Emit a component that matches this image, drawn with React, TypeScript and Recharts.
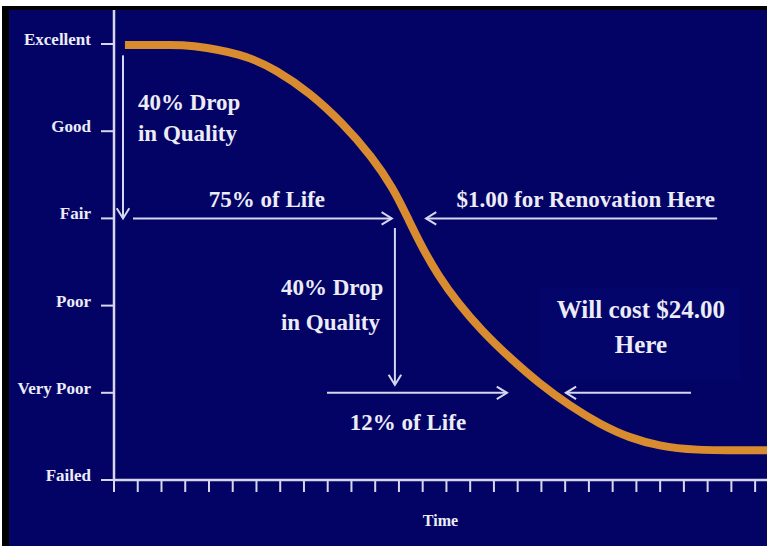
import { LineChart, Line, XAxis, YAxis, ReferenceLine, ReferenceDot, ReferenceArea, Label } from "recharts";

const NAVY = "#030366";
const INK = "#ececf6";
const AXIS = "#d6d6ee";
const ORANGE = "#d98b30";
const FONT = '"Liberation Serif", "Times New Roman", serif';

// quality levels, bottom to top
const levels = ["Failed", "Very Poor", "Poor", "Fair", "Good", "Excellent"];
const levelTicks = [0, 1, 2, 3, 4, 5];
const timeTicks = [0, 1, 2, 3, 4, 5, 6, 7, 8, 9, 10, 11, 12, 13, 14, 15, 16, 17, 18, 19, 20, 21, 22, 23, 24, 25, 26, 27];

// the deterioration curve (time in tick units, quality in levels)
const curveTime = [0.46, 2.6, 3.07, 5.43, 6.86, 8.25, 9.64, 10.86, 11.75, 12.38, 12.93, 13.64, 14.48, 15.49, 16.67, 17.94, 19.2, 20.46, 21.73, 22.99, 24.25, 27.5];
const curveQuality = [4.99, 4.99, 4.99, 4.89, 4.7, 4.44, 4.09, 3.71, 3.35, 3.0, 2.69, 2.35, 2.03, 1.71, 1.4, 1.1, 0.85, 0.64, 0.48, 0.39, 0.34, 0.34];

// arrows: [fromTime, fromQuality, toTime, toQuality], head at the "to" end
const arrows = [
  [0.38, 4.87, 0.38, 3.0],
  [0.8, 3.0, 11.7, 3.0],
  [25.4, 3.0, 13.14, 3.0],
  [11.83, 2.89, 11.83, 1.09],
  [8.97, 1.0, 16.55, 1.0],
  [24.3, 1.0, 19.03, 1.0],
];

// notes: time, quality of first baseline, anchor, size, line gap, lines
const noteTime = [1.01, 6.44, 19.87, 7.03, 12.38, 22.19];
const noteQuality = [4.24, 3.13, 3.13, 2.12, 0.57, 1.86];
const noteAnchor = ["start", "middle", "middle", "start", "middle", "middle"];
const noteSize = [23, 23, 23, 23, 23, 25];
const noteGap = [31, 0, 0, 35, 0, 35];
const noteLines = [
  ["40% Drop", "in Quality"],
  ["75% of Life"],
  ["$1.00 for Renovation Here"],
  ["40% Drop", "in Quality"],
  ["12% of Life"],
  ["Will cost $24.00", "Here"],
];

const data = curveTime.map((t, i) => ({ t, q: curveQuality[i] }));

function LevelTick(props: any) {
  const { x, y, payload } = props;
  return (
    <text x={x} y={y + 1} textAnchor="end" fill={INK} fontFamily={FONT} fontWeight="bold" fontSize={17}>
      {levels[payload.value]}
    </text>
  );
}

function TimeLabel(props: any) {
  const vb = props.viewBox || {};
  return (
    <text x={vb.x + vb.width / 2} y={vb.y + 46} textAnchor="middle" fill={INK} fontFamily={FONT} fontWeight="bold" fontSize={16}>
      Time
    </text>
  );
}

function Arrow(props: any) {
  const { x1, y1, x2, y2 } = props;
  const ang = Math.atan2(y2 - y1, x2 - x1);
  const h = 12;
  const s = 0.55;
  const ax = x2 - h * Math.cos(ang - s);
  const ay = y2 - h * Math.sin(ang - s);
  const bx = x2 - h * Math.cos(ang + s);
  const by = y2 - h * Math.sin(ang + s);
  return (
    <g>
      <line x1={x1} y1={y1} x2={x2} y2={y2} stroke={AXIS} strokeWidth={2} />
      <polyline points={`${ax},${ay} ${x2},${y2} ${bx},${by}`} fill="none" stroke={AXIS} strokeWidth={2} />
    </g>
  );
}

function Note(props: any) {
  const { cx, cy, lines, anchor, size, gap } = props;
  return (
    <text textAnchor={anchor} fill={INK} fontFamily={FONT} fontWeight="bold" fontSize={size}>
      {lines.map((l: string, i: number) => (
        <tspan key={i} x={cx} y={cy + i * gap}>
          {l}
        </tspan>
      ))}
    </text>
  );
}

export default function App() {
  return (
    <div style={{ position: "absolute", left: 0, top: 0, width: 767, height: 546, background: "#fff" }}>
      <div style={{ position: "absolute", left: 2, top: 6, right: 0, bottom: 0, background: "#000" }} />
      <div style={{ position: "absolute", left: 9, top: 10, right: 0, bottom: 0, background: NAVY }} />
      <div style={{ position: "absolute", left: 0, top: 0 }}>
        <LineChart width={767} height={546} data={data} margin={{ top: 10, right: 0, bottom: 36, left: 0 }}>
          <XAxis
            type="number"
            dataKey="t"
            domain={[0, 27.5]}
            ticks={timeTicks}
            interval={0}
            tickSize={12}
            height={30}
            tickFormatter={() => ""}
            axisLine={{ stroke: AXIS, strokeWidth: 2.5 }}
            tickLine={{ stroke: AXIS, strokeWidth: 2 }}
          >
            <Label content={TimeLabel} />
          </XAxis>
          <YAxis
            type="number"
            domain={[0, 5.39]}
            ticks={levelTicks}
            width={114}
            tickSize={13}
            tickMargin={10}
            interval={0}
            axisLine={{ stroke: AXIS, strokeWidth: 2.5 }}
            tickLine={{ stroke: AXIS, strokeWidth: 2 }}
            tick={<LevelTick />}
          />
          <ReferenceArea x1={17.9} x2={26.4} y1={1.15} y2={2.2} fill="#0a0f80" fillOpacity={0.22} stroke="none" />
          {arrows.map((a, i) => (
            <ReferenceLine
              key={`a${i}`}
              segment={[
                { x: a[0], y: a[1] },
                { x: a[2], y: a[3] },
              ]}
              shape={(p: any) => <Arrow {...p} />}
            />
          ))}
          {noteLines.map((lines, i) => (
            <ReferenceDot
              key={`n${i}`}
              x={noteTime[i]}
              y={noteQuality[i]}
              r={1}
              shape={(p: any) => (
                <Note cx={p.cx} cy={p.cy} lines={lines} anchor={noteAnchor[i]} size={noteSize[i]} gap={noteGap[i]} />
              )}
            />
          ))}
          <Line
            type="basis"
            dataKey="q"
            stroke={ORANGE}
            strokeWidth={8}
            dot={false}
            activeDot={false}
            isAnimationActive={false}
          />
        </LineChart>
      </div>
    </div>
  );
}
